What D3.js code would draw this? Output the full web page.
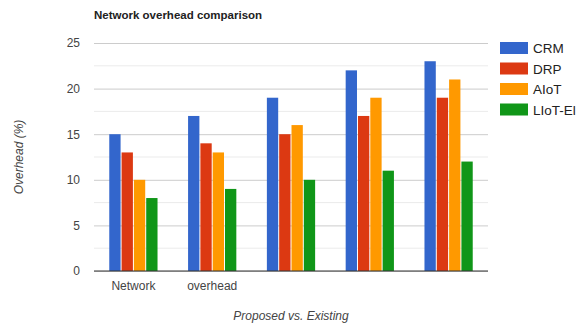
<!DOCTYPE html>
<html>
<head>
<meta charset="utf-8">
<script src="https://cdn.jsdelivr.net/npm/d3@7"></script>
<style>
  html, body { margin: 0; padding: 0; background: #fff; overflow: hidden; }
  svg { display: block; font-family: "Liberation Sans", Arial, sans-serif; }
</style>
</head>
<body>
<svg id="chart" width="576" height="329"></svg>
<script>
// Group labels along the x axis (only the first two carry text)
const categories = ["Network", "overhead", "", "", ""];
const seriesNames = ["CRM", "DRP", "AIoT", "LIoT-El"];
const seriesColors = ["#3366cc", "#dc3912", "#ff9900", "#109618"];
const crm  = [15, 17, 19, 22, 23];
const drp  = [13, 14, 15, 17, 19];
const aiot = [10, 13, 16, 19, 21];
const liot = [8, 9, 10, 11, 12];
const yTicks = [0, 5, 10, 15, 20, 25];

const series = [crm, drp, aiot, liot];
const svg = d3.select("#chart");
const margin = { left: 94, right: 88, top: 43, bottom: 58 };
const W = 576, H = 329;
const plotR = W - margin.right, plotB = H - margin.bottom;

const x0 = d3.scaleBand().domain(d3.range(categories.length))
  .range([margin.left, plotR]).paddingInner(0.375).paddingOuter(0.1875);
const x1 = d3.scaleBand().domain(d3.range(series.length))
  .range([0, x0.bandwidth()]).padding(0);
const y = d3.scaleLinear().domain([0, 25]).range([plotB, margin.top]);

// Minor gridlines at half steps
svg.append("g").selectAll("line")
  .data(d3.range(2.5, 25, 5)).join("line")
  .attr("x1", margin.left).attr("x2", plotR)
  .attr("y1", d => y(d)).attr("y2", d => y(d))
  .attr("stroke", "#ebebeb").attr("stroke-width", 1);

// Major gridlines + tick labels via axis
const yAxis = svg.append("g")
  .attr("transform", `translate(${margin.left},0)`)
  .call(d3.axisLeft(y).tickValues(yTicks).tickSize(-(plotR - margin.left)).tickPadding(14));
yAxis.select(".domain").remove();
yAxis.selectAll(".tick line").attr("stroke", "#cccccc");
yAxis.selectAll(".tick text").attr("fill", "#444").attr("font-size", 12);

// Bars
const groups = svg.append("g").selectAll("g")
  .data(categories.map((c, i) => i)).join("g")
  .attr("transform", i => `translate(${x0(i)},0)`);
groups.selectAll("rect")
  .data(i => series.map((s, k) => ({ k, v: s[i] }))).join("rect")
  .attr("x", d => x1(d.k) + 0.5)
  .attr("width", x1.bandwidth() - 1)
  .attr("y", d => y(d.v))
  .attr("height", d => y(0) - y(d.v))
  .attr("fill", d => seriesColors[d.k]);

// Baseline
svg.append("line")
  .attr("x1", margin.left).attr("x2", plotR)
  .attr("y1", y(0)).attr("y2", y(0))
  .attr("stroke", "#333").attr("stroke-width", 1);

// X axis category labels
const xAxis = svg.append("g")
  .attr("transform", `translate(0,${plotB})`)
  .call(d3.axisBottom(x0).tickFormat(i => categories[i]).tickSize(0).tickPadding(10));
xAxis.select(".domain").remove();
xAxis.selectAll(".tick text").attr("fill", "#444").attr("font-size", 12);

// Title
svg.append("text")
  .attr("x", margin.left).attr("y", 19)
  .attr("font-size", 11.5).attr("font-weight", "bold").attr("fill", "#222")
  .text("Network overhead comparison");

// Axis titles
svg.append("text")
  .attr("transform", `translate(23,${(margin.top + plotB) / 2}) rotate(-90)`)
  .attr("text-anchor", "middle").attr("font-size", 12).attr("font-style", "italic")
  .attr("fill", "#444").text("Overhead (%)");
svg.append("text")
  .attr("x", (margin.left + plotR) / 2).attr("y", 320)
  .attr("text-anchor", "middle").attr("font-size", 12).attr("font-style", "italic")
  .attr("fill", "#444").text("Proposed vs. Existing");

// Legend
const legend = svg.append("g").attr("transform", "translate(500,42)");
const items = legend.selectAll("g").data(seriesNames).join("g")
  .attr("transform", (d, i) => `translate(0,${i * 20.5})`);
items.append("rect").attr("width", 28).attr("height", 12)
  .attr("fill", (d, i) => seriesColors[i]);
items.append("text").attr("x", 33).attr("y", 11)
  .attr("font-size", 13.5).attr("fill", "#222").text(d => d);
</script>
</body>
</html>
